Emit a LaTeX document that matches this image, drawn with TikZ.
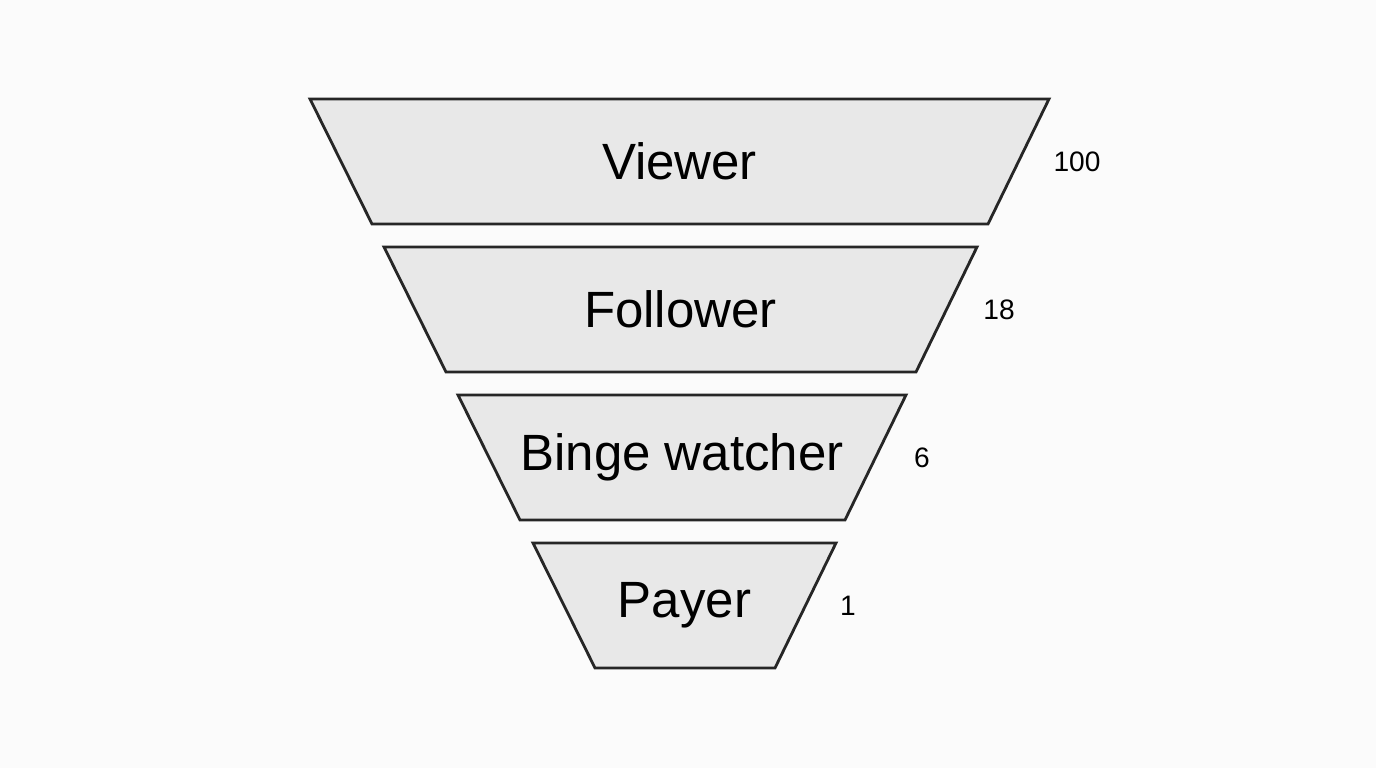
\documentclass[tikz,border=0pt]{standalone}
\usepackage{fontspec}
\setmainfont{Liberation Sans}
\usetikzlibrary{calc}
\definecolor{stagefill}{HTML}{E8E8E8}
\definecolor{paper}{HTML}{FBFBFB}
\tikzset{stage/.style={draw=black!85,fill=stagefill,line width=0.8pt,line join=miter}}
\tikzset{l/.style={font=\fontsize{14.5}{14.5}\selectfont}}
\tikzset{m/.style={font=\fontsize{8}{8}\selectfont}}

\begin{document}
\begin{tikzpicture}[x=0.01cm,y=-0.01cm]
        \fill[paper] (0,0) rectangle (1376,768);
        \useasboundingbox (0,0) rectangle (1376,768);
        % top-left x, top-right x, top y, bottom inset, label, count, count x
        \foreach \tl/\tr/\ty/\nm/\txt/\cnt/\cx in {
            310/1049/99/view/Viewer/100/1077,
            384/977/247/foll/Follower/18/999,
            458/906/395/binge/Binge watcher/6/922,
            533/836/543/pay/Payer/1/848}
        {
          \filldraw [stage] (\tl,\ty)--(\tr,\ty)--(\tr-61,\ty+125)--(\tl+62,\ty+125)--cycle;
          \node [l] (\nm) at ({(\tl+\tr)/2},\ty+62) {\txt};
          \node [m] (\nm-n) at (\cx,\ty+63) {\cnt};
        }
      \end{tikzpicture}
\end{document}
